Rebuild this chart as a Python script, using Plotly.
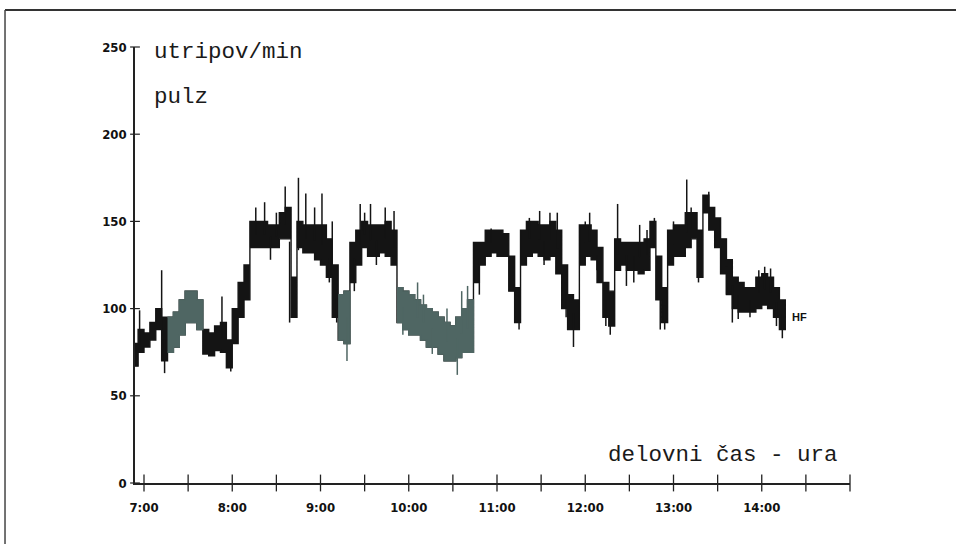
import numpy as np
import plotly.graph_objects as go

# ---- data (minutes after 7:00, beats per minute) ----
t_min = list(range(-6, 435, 4))
core_lo = [67, 75, 78, 82, 88, 70, 75, 78, 85, 92, 92, 88, 74, 73, 76, 75, 66, 80, 95, 105,
           135, 135, 135, 135, 135, 140, 140, 95, 135, 132, 132, 128, 125, 118, 95, 82, 80, 115, 125, 135,
           130, 130, 132, 130, 125, 92, 88, 85, 85, 82, 78, 78, 74, 70, 70, 72, 75, 75, 115, 125,
           130, 132, 130, 130, 110, 92, 125, 130, 132, 130, 128, 130, 120, 100, 88, 88, 125, 130, 128, 115,
           95, 90, 122, 125, 122, 122, 120, 122, 135, 105, 92, 125, 130, 130, 135, 140, 118, 155, 145, 135,
           120, 108, 100, 98, 98, 98, 100, 102, 100, 95, 88]
core_hi = [80, 88, 86, 92, 100, 95, 95, 98, 105, 110, 110, 105, 88, 86, 90, 92, 82, 100, 115, 125,
           150, 150, 150, 148, 148, 155, 158, 118, 150, 148, 148, 148, 148, 140, 125, 108, 110, 138, 145, 150,
           148, 148, 148, 150, 145, 112, 110, 108, 105, 102, 100, 98, 95, 92, 90, 95, 100, 105, 138, 138,
           145, 145, 145, 143, 130, 112, 145, 150, 150, 148, 148, 150, 145, 125, 108, 105, 148, 148, 145, 135,
           115, 110, 140, 138, 138, 138, 138, 140, 150, 130, 112, 145, 148, 148, 155, 155, 145, 165, 158, 152,
           140, 128, 118, 115, 112, 112, 118, 120, 118, 112, 105]
# segments recorded in grey (minutes after 7:00)
grey_spans = [(16, 38), (132, 140), (172, 224)]

spike_t = [-3, 12, 14, 53, 59, 76, 82, 86, 90, 96, 99, 105, 110, 116, 121, 126, 128, 131,
           138, 143, 147, 150, 154, 158, 164, 170, 176, 186, 190, 196, 206, 213, 216, 220,
           228, 236, 255, 262, 269, 272, 276, 281, 287, 292, 300, 303, 308, 314, 317, 322,
           328, 333, 337, 342, 347, 351, 354, 360, 369, 372, 377, 384, 396, 400, 404, 412,
           418, 422, 426, 430, 434]
spike_v = [99, 122, 63, 107, 64, 158, 161, 128, 155, 170, 92, 175, 166, 158, 166, 115, 150, 92,
           70, 110, 160, 155, 160, 125, 158, 156, 85, 115, 108, 74, 100, 62, 110, 113,
           108, 146, 88, 152, 156, 125, 155, 155, 95, 78, 150, 155, 122, 90, 85, 160,
           113, 115, 148, 145, 152, 88, 88, 150, 174, 158, 115, 167, 108, 92, 94, 95,
           122, 124, 123, 90, 83]

x_ticks = list(range(0, 481, 30))
x_label_vals = list(range(0, 421, 60))
x_label_text = ["7:00", "8:00", "9:00", "10:00", "11:00", "12:00", "13:00", "14:00"]
y_ticks = [0, 50, 100, 150, 200, 250]

BLACK = "#141414"
GREY = "#4f6663"

def is_grey(t):
    return any(a <= t <= b for a, b in grey_spans)

fig = go.Figure()

t_arr = np.array(t_min, float)
lo = np.array(core_lo, float)
hi = np.array(core_hi, float)


def band(idx, col):
    xs, ys = [], []
    for i in idx:
        xs += [t_arr[i] - 2, t_arr[i] + 2]
        ys += [hi[i], hi[i]]
    for i in reversed(idx):
        xs += [t_arr[i] + 2, t_arr[i] - 2]
        ys += [lo[i], lo[i]]
    fig.add_trace(go.Scatter(x=xs, y=ys, mode="lines", fill="toself", fillcolor=col,
                             line=dict(color=col, width=1.4), hoverinfo="skip", showlegend=False))


# whole record in black, then the grey-recorded parts on top
band(list(range(len(t_min))), BLACK)
for a, b in grey_spans:
    band([i for i, t in enumerate(t_min) if a <= t <= b], GREY)

mid = (lo + hi) / 2
sx, sy, gx, gy = [], [], [], []
for t, v in zip(spike_t, spike_v):
    base = float(np.interp(t, t_arr, mid))
    if is_grey(t):
        gx += [t, t, None]; gy += [base, v, None]
    else:
        sx += [t, t, None]; sy += [base, v, None]
fig.add_trace(go.Scatter(x=sx, y=sy, mode="lines", line=dict(color=BLACK, width=1.5),
                         hoverinfo="skip", showlegend=False))
fig.add_trace(go.Scatter(x=gx, y=gy, mode="lines", line=dict(color=GREY, width=1.5),
                         hoverinfo="skip", showlegend=False))

XMIN, XMAX = -6.12, 480
fig.add_trace(go.Scatter(x=x_ticks, y=[0] * len(x_ticks), mode="markers", cliponaxis=False,
                         marker=dict(symbol="line-ns-open", size=12, color="#222",
                                     line=dict(color="#222", width=1.3)),
                         hoverinfo="skip", showlegend=False))
fig.add_trace(go.Scatter(x=[XMIN] * len(y_ticks), y=y_ticks, mode="markers", cliponaxis=False,
                         marker=dict(symbol="line-ew-open", size=7, color="#222",
                                     line=dict(color="#222", width=1.2)),
                         hoverinfo="skip", showlegend=False))

tick_font = dict(family="Liberation Sans Narrow, DejaVu Sans Condensed, Liberation Sans", size=13,
                 color="#111", weight="bold")
fig.update_xaxes(range=[XMIN, XMAX], showgrid=False, zeroline=False, showline=True,
                 linecolor="#222", linewidth=1.5, tickvals=x_label_vals, ticktext=x_label_text,
                 ticks="outside", ticklen=12, tickcolor="rgba(0,0,0,0)", tickfont=tick_font)
fig.update_yaxes(range=[0, 250], showgrid=False, zeroline=False, showline=True,
                 linecolor="#222", linewidth=1.5, tickvals=y_ticks,
                 ticks="outside", ticklen=4, tickcolor="rgba(0,0,0,0)", tickfont=tick_font)

mono = dict(family="Liberation Mono, DejaVu Sans Mono, monospace", size=22.5, color="#1a1a1a")
fig.add_annotation(text="utripov/min", xref="paper", yref="paper", x=0.0238, y=0.9885,
                   xanchor="left", yanchor="middle", showarrow=False, font=mono)
fig.add_annotation(text="pulz", xref="paper", yref="paper", x=0.0238, y=0.885,
                   xanchor="left", yanchor="middle", showarrow=False, font=mono)
fig.add_annotation(text="delovni čas - ura", xref="paper", yref="paper", x=0.986, y=0.064,
                   xanchor="right", yanchor="middle", showarrow=False, font=mono)
fig.add_annotation(text="<b>HF</b>", x=439, y=95, xanchor="left", yanchor="middle", showarrow=False,
                   font=dict(family="Liberation Sans Narrow, Liberation Sans", size=11, color="#111"))

# page frame
fig.add_shape(type="line", xref="paper", yref="paper", x0=-0.1818, x1=1.2, y0=1.0849, y1=1.0849,
              line=dict(color="#333", width=2))
fig.add_shape(type="line", xref="paper", yref="paper", x0=-0.1818, x1=-0.1818, y0=1.0849, y1=-0.14,
              line=dict(color="#444", width=1.5))

fig.update_layout(width=956, height=544, margin=dict(l=135, r=106, t=47, b=61),
                  paper_bgcolor="white", plot_bgcolor="white")
fig.write_html("out.html", config={"displayModeBar": False},
               post_script="document.body.style.margin='0';document.body.style.overflow='hidden';")
